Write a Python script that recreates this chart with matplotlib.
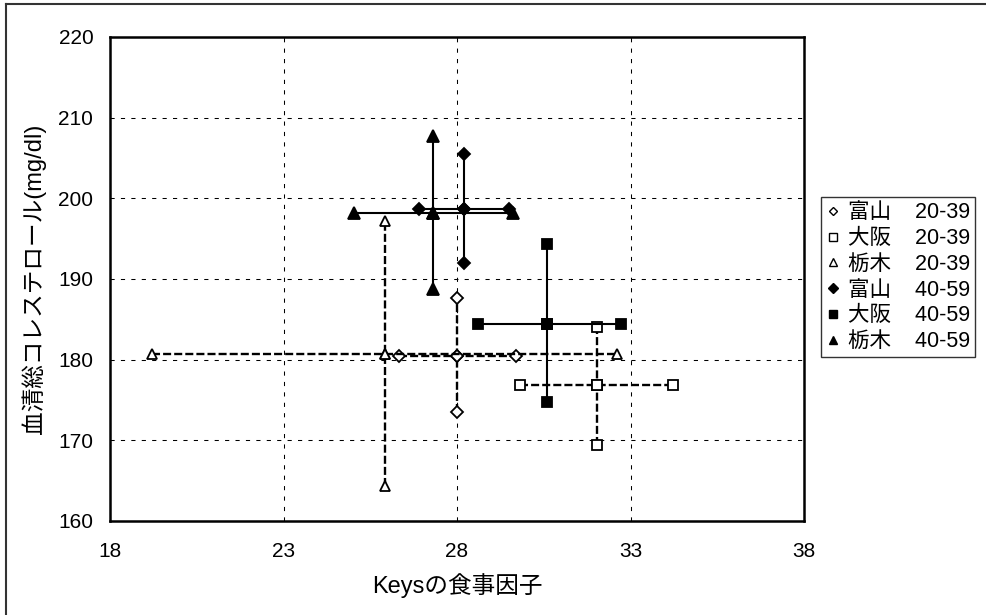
import matplotlib
matplotlib.use("Agg")
import matplotlib.pyplot as plt
from matplotlib.lines import Line2D

plt.rcParams['font.family'] = ['Liberation Sans', 'Noto Sans CJK JP', 'DejaVu Sans']

# Series: name, centre x, centre y, x-range (low, high), y-range (low, high)
names = ["富山", "大阪", "栃木", "富山", "大阪", "栃木"]
ages = ["20-39", "20-39", "20-39", "40-59", "40-59", "40-59"]
center_x = [27.99, 32.03, 25.93, 28.20, 30.60, 27.30]
center_y = [180.5, 176.8, 180.7, 198.7, 184.4, 198.2]
x_low = [26.34, 29.82, 19.20, 26.91, 28.60, 25.03]
x_high = [29.70, 34.22, 32.62, 29.51, 32.72, 29.60]
y_low = [173.5, 169.4, 164.3, 192.0, 174.8, 188.8]
y_high = [187.6, 184.1, 197.2, 205.5, 194.3, 207.7]

x_ticks = [18, 23, 28, 33, 38]
y_ticks = [160, 170, 180, 190, 200, 210, 220]

markers = ['D', 's', '^', 'D', 's', '^']
msizes = [6, 7, 7.5, 6.5, 7.5, 8.5]
filled = [False, False, False, True, True, True]

fig = plt.figure(figsize=(9.86, 6.15), dpi=100)
ax = fig.add_axes([110/986, 94/615, 694/986, 484/615])

for i in range(len(names)):
    if filled[i]:
        ls = '-'
        lw = 1.5
        mfc = 'black'
    else:
        ls = (0, (3.4, 1.3))
        lw = 1.7
        mfc = 'white'
    kw = dict(color='black', linestyle=ls, linewidth=lw, marker=markers[i],
              markersize=msizes[i], markerfacecolor=mfc, markeredgecolor='black',
              markeredgewidth=1.3, zorder=3 + i * 0.1)
    ax.plot([x_low[i], center_x[i], x_high[i]], [center_y[i]] * 3, **kw)
    ax.plot([center_x[i]] * 3, [y_low[i], center_y[i], y_high[i]], **kw)

ax.set_xlim(18, 38)
ax.set_ylim(160, 220)
ax.set_xticks(x_ticks)
ax.set_yticks(y_ticks)
ax.grid(True, color='black', linestyle=(0, (4, 6)), linewidth=0.75, zorder=1)
ax.set_axisbelow(True)
ax.tick_params(axis='both', length=0, labelsize=15)
ax.tick_params(axis='y', pad=12)
ax.tick_params(axis='x', pad=15)
for sp in ax.spines.values():
    sp.set_linewidth(1.8)
    sp.set_color('black')

ax.set_xlabel("Keysの食事因子", fontsize=17, labelpad=9)
ax.set_ylabel("血清総コレステロール(mg/dl)", fontsize=17, labelpad=9)

handles = []
labels = []
for i in range(len(names)):
    h = Line2D([], [], linestyle='None', marker=markers[i],
               markersize=msizes[i] * 0.75,
               markerfacecolor='black' if filled[i] else 'white',
               markeredgecolor='black', markeredgewidth=1.0)
    handles.append(h)
    labels.append(f"{names[i]}    {ages[i]}")

leg = fig.legend(handles, labels, loc='upper left',
                 bbox_to_anchor=(821/986, 1 - 197/615),
                 bbox_transform=fig.transFigure, fontsize=15.5,
                 frameon=True, fancybox=False, borderaxespad=0,
                 handlelength=0.6, handletextpad=0.4, borderpad=0.25,
                 labelspacing=0.22)
leg.get_frame().set_edgecolor('black')
leg.get_frame().set_linewidth(1.0)

# outer border of the chart area (top and left edges)
fig.add_artist(Line2D([6/986, 1], [1 - 4/615, 1 - 4/615], transform=fig.transFigure,
                      color='#333333', linewidth=1.5))
fig.add_artist(Line2D([6/986, 6/986], [0, 1 - 4/615], transform=fig.transFigure,
                      color='#333333', linewidth=1.5))

fig.savefig("out.png", dpi=100)
